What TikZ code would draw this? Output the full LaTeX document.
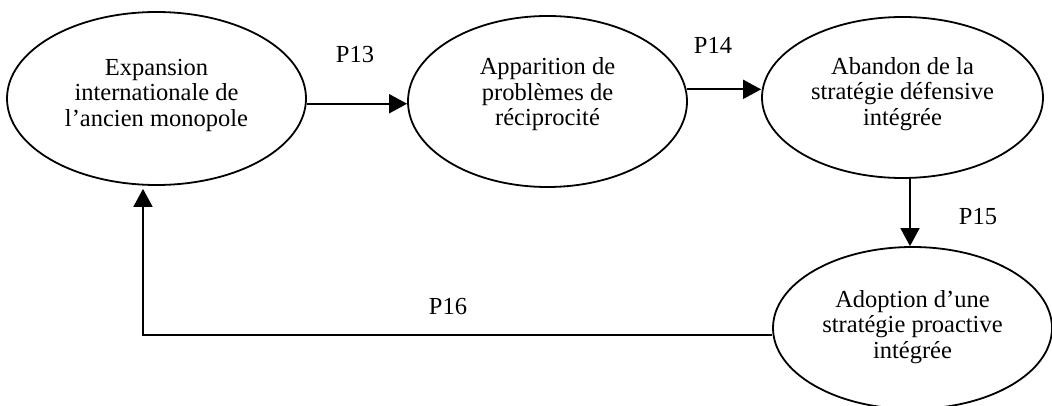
\documentclass[tikz,border=0pt]{standalone}
\usepackage{fontspec}
\setmainfont{Liberation Serif}
\usetikzlibrary{shapes.geometric,arrows.meta,calc}
\begin{document}
\begin{tikzpicture}[x=1pt,y=-1pt,
  bubble/.style={draw,ellipse,line width=1.8pt,inner sep=0pt},
  txt/.style={align=center,inner sep=0pt,font=\fontsize{24.5}{25.5}\selectfont},
  arr/.style={line width=1.8pt,-{Triangle[length=18pt,width=19pt]}},
  plabel/.style={font=\fontsize{24.5}{27}\selectfont}]
\useasboundingbox (0,0) rectangle (1052,406);
\node[bubble,minimum width=299pt,minimum height=173pt,
  label={[txt,name=t1,yshift=3.5pt]center:{Expansion\\internationale de\\l’ancien monopole}}]
  (e1) at (156.5,98.5) {};
\node[bubble,minimum width=279pt,minimum height=171pt,
  label={[txt,name=t2,yshift=7pt]center:{Apparition de\\problèmes de\\réciprocité}}]
  (e2) at (547.5,101.5) {};
\node[bubble,minimum width=281pt,minimum height=161pt,
  label={[txt,name=t3,yshift=3.5pt]center:{Abandon de la\\stratégie défensive\\intégrée}}]
  (e3) at (902.5,97.5) {};
\node[bubble,minimum width=279pt,minimum height=162pt,
  label={[txt,name=t4,yshift=1pt]center:{Adoption d’une\\stratégie proactive\\intégrée}}]
  (e4) at (912.5,328) {};
\coordinate (c15) at (910,0);
\coordinate (c16) at (143,335);
\draw[arr] (e1.-2) -- (e1.-2 -| e2.west);
\draw[arr] (e2.5) -- (e2.5 -| e3.west);
\draw[arr] (e3.south -| c15) -- (e4.north -| c15);
\draw[arr,shorten >=3pt] (e4.west |- c16) -- (c16) -- (e1.south -| c16);
\node[plabel] (p13) at (355,55) {P13};
\node[plabel] (p14) at (713,45) {P14};
\node[plabel] (p15) at (978,217) {P15};
\node[plabel] (p16) at (448,307) {P16};
\end{tikzpicture}
\end{document}
